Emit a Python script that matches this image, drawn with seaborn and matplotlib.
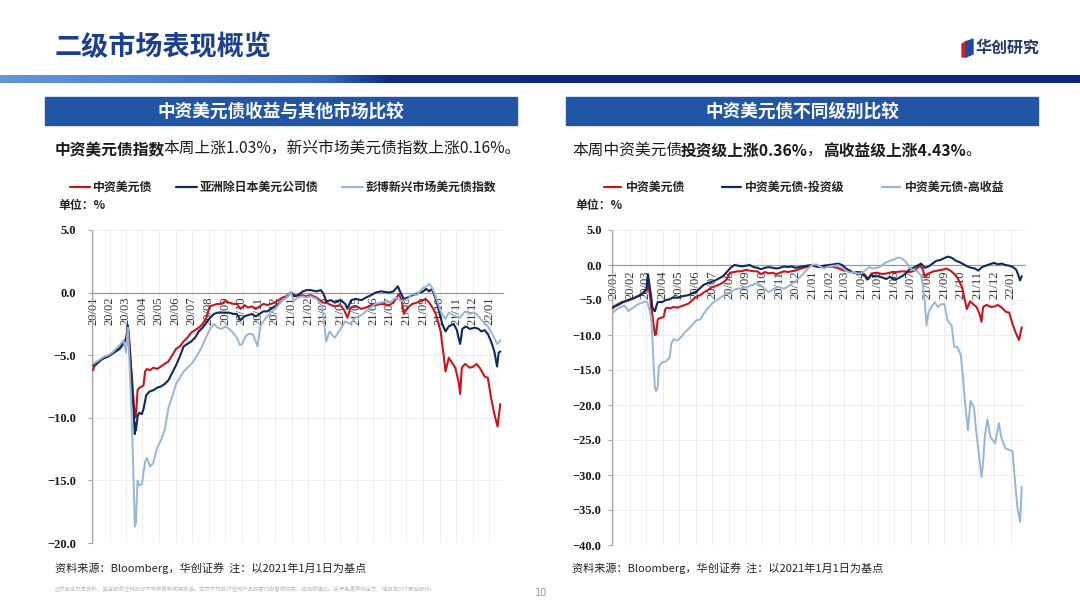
import numpy as np
import pandas as pd
import matplotlib
matplotlib.use('Agg')
import matplotlib.pyplot as plt
import matplotlib.dates as mdates
from matplotlib.ticker import FuncFormatter
from matplotlib.patches import Rectangle, Polygon
from matplotlib.lines import Line2D
import seaborn as sns

# ---- data: cumulative change, % (base 2021-01-01) ----
cn_usd = [
    ("2020-01-01", -6.2), ("2020-01-03", -5.9), ("2020-01-10", -5.6), ("2020-01-17", -5.3), ("2020-01-24", -5.2),
    ("2020-01-31", -5.0), ("2020-02-07", -4.8), ("2020-02-14", -4.5), ("2020-02-21", -4.2), ("2020-02-28", -3.9),
    ("2020-03-03", -3.5), ("2020-03-05", -2.7), ("2020-03-06", -3.0), ("2020-03-09", -4.5), ("2020-03-11", -6.0),
    ("2020-03-13", -7.0), ("2020-03-16", -8.8), ("2020-03-18", -10.0), ("2020-03-19", -9.8), ("2020-03-20", -9.9),
    ("2020-03-23", -7.8), ("2020-03-26", -7.6), ("2020-03-31", -7.5), ("2020-04-03", -7.4), ("2020-04-06", -6.3),
    ("2020-04-09", -6.1), ("2020-04-15", -6.2), ("2020-04-21", -6.0), ("2020-04-28", -6.1), ("2020-05-05", -5.9),
    ("2020-05-12", -5.7), ("2020-05-19", -5.5), ("2020-05-26", -5.0), ("2020-06-02", -4.5), ("2020-06-09", -4.3),
    ("2020-06-16", -3.9), ("2020-06-23", -3.6), ("2020-06-30", -3.2), ("2020-07-07", -3.0), ("2020-07-14", -2.8),
    ("2020-07-21", -2.5), ("2020-07-28", -2.0), ("2020-08-03", -1.1), ("2020-08-10", -1.0), ("2020-08-17", -0.9),
    ("2020-08-24", -0.9), ("2020-09-01", -0.7), ("2020-09-08", -0.8), ("2020-09-15", -0.9), ("2020-09-22", -0.9),
    ("2020-09-29", -1.3), ("2020-10-06", -1.0), ("2020-10-13", -1.2), ("2020-10-20", -1.1), ("2020-10-27", -1.3),
    ("2020-11-03", -1.1), ("2020-11-10", -0.9), ("2020-11-17", -1.0), ("2020-11-24", -0.9), ("2020-12-01", -0.8),
    ("2020-12-08", -0.6), ("2020-12-15", -0.4), ("2020-12-22", -0.3), ("2020-12-31", 0.0),
    ("2021-01-06", -0.2), ("2021-01-13", -0.3), ("2021-01-20", -0.2), ("2021-01-27", -0.3), ("2021-02-05", -0.2),
    ("2021-02-16", -0.4), ("2021-02-28", -0.8), ("2021-03-06", -0.8), ("2021-03-15", -1.0), ("2021-03-22", -1.1),
    ("2021-04-01", -1.0), ("2021-04-08", -1.4), ("2021-04-14", -2.0), ("2021-04-20", -1.2), ("2021-04-30", -1.1),
    ("2021-05-10", -1.3), ("2021-05-18", -1.2), ("2021-05-28", -1.0), ("2021-06-05", -1.0), ("2021-06-15", -0.9),
    ("2021-06-30", -1.0), ("2021-07-08", -0.8), ("2021-07-18", -0.1), ("2021-07-23", -0.6), ("2021-07-27", -1.7),
    ("2021-08-03", -1.2), ("2021-08-12", -0.9), ("2021-08-20", -0.8), ("2021-09-01", -0.6), ("2021-09-05", -0.5),
    ("2021-09-12", -0.8), ("2021-09-18", -1.2), ("2021-09-24", -1.7), ("2021-10-03", -3.1), ("2021-10-09", -5.2),
    ("2021-10-12", -6.3), ("2021-10-18", -5.2), ("2021-10-24", -5.6), ("2021-10-30", -6.0), ("2021-11-05", -7.1),
    ("2021-11-08", -8.1), ("2021-11-11", -6.0), ("2021-11-17", -5.7), ("2021-11-26", -6.0), ("2021-12-03", -5.9),
    ("2021-12-08", -5.7), ("2021-12-14", -6.0), ("2021-12-23", -6.7), ("2021-12-29", -6.8), ("2022-01-04", -8.4),
    ("2022-01-10", -9.7), ("2022-01-16", -10.7), ("2022-01-19", -9.6), ("2022-01-21", -8.9),
]

asia_xj = [
    ("2020-01-01", -5.8), ("2020-01-08", -5.6), ("2020-01-15", -5.4), ("2020-01-22", -5.2), ("2020-01-29", -5.1),
    ("2020-02-05", -4.9), ("2020-02-12", -4.7), ("2020-02-19", -4.5), ("2020-02-26", -4.1), ("2020-03-02", -3.7),
    ("2020-03-05", -2.6), ("2020-03-06", -3.0), ("2020-03-09", -5.0), ("2020-03-11", -6.0), ("2020-03-13", -7.8),
    ("2020-03-16", -9.6), ("2020-03-18", -11.3), ("2020-03-19", -10.4), ("2020-03-20", -11.0), ("2020-03-23", -9.9),
    ("2020-03-26", -9.6), ("2020-03-31", -9.7), ("2020-04-03", -9.3), ("2020-04-08", -8.2), ("2020-04-14", -7.9),
    ("2020-04-21", -7.8), ("2020-04-28", -7.6), ("2020-05-05", -7.5), ("2020-05-12", -7.3), ("2020-05-19", -7.0),
    ("2020-05-26", -6.4), ("2020-06-02", -5.8), ("2020-06-09", -5.1), ("2020-06-16", -4.3), ("2020-06-23", -4.1),
    ("2020-06-30", -3.9), ("2020-07-07", -3.6), ("2020-07-14", -3.1), ("2020-07-21", -2.8), ("2020-07-28", -2.4),
    ("2020-08-04", -2.0), ("2020-08-11", -1.7), ("2020-08-18", -1.6), ("2020-08-25", -1.6), ("2020-09-01", -1.6),
    ("2020-09-08", -1.6), ("2020-09-15", -1.7), ("2020-09-22", -1.7), ("2020-09-29", -2.2), ("2020-10-06", -1.9),
    ("2020-10-13", -1.8), ("2020-10-20", -1.7), ("2020-10-27", -1.9), ("2020-11-03", -1.7), ("2020-11-10", -1.5),
    ("2020-11-17", -1.5), ("2020-11-24", -1.3), ("2020-12-01", -1.1), ("2020-12-08", -0.9), ("2020-12-15", -0.6),
    ("2020-12-22", -0.4), ("2020-12-31", 0.0),
    ("2021-01-06", -0.3), ("2021-01-13", -0.2), ("2021-01-22", 0.1), ("2021-01-29", 0.2), ("2021-02-05", 0.2),
    ("2021-02-16", 0.1), ("2021-02-24", 0.2), ("2021-03-01", -0.1), ("2021-03-06", -0.7), ("2021-03-15", -0.6),
    ("2021-03-22", -0.8), ("2021-04-01", -0.6), ("2021-04-10", -0.9), ("2021-04-14", -1.3), ("2021-04-21", -0.6),
    ("2021-04-29", -0.5), ("2021-05-10", -0.6), ("2021-05-18", -0.4), ("2021-05-28", -0.2), ("2021-06-05", 0.0),
    ("2021-06-15", 0.1), ("2021-06-30", 0.0), ("2021-07-08", 0.1), ("2021-07-16", 0.5), ("2021-07-20", 0.1),
    ("2021-07-27", -0.5), ("2021-08-03", -0.4), ("2021-08-12", -0.2), ("2021-08-20", -0.1), ("2021-09-01", 0.1),
    ("2021-09-06", 0.3), ("2021-09-12", 0.1), ("2021-09-17", 0.3), ("2021-09-24", -0.5), ("2021-09-30", -1.5),
    ("2021-10-06", -2.5), ("2021-10-12", -3.1), ("2021-10-18", -2.7), ("2021-10-27", -2.5), ("2021-11-02", -3.0),
    ("2021-11-05", -3.6), ("2021-11-08", -4.1), ("2021-11-12", -2.9), ("2021-11-18", -2.7), ("2021-11-26", -2.9),
    ("2021-12-05", -2.8), ("2021-12-12", -2.9), ("2021-12-17", -3.1), ("2021-12-23", -3.0), ("2021-12-29", -3.3),
    ("2022-01-04", -3.9), ("2022-01-10", -4.7), ("2022-01-15", -5.9), ("2022-01-18", -4.8), ("2022-01-21", -4.7),
]

bbg_em = [
    ("2020-01-01", -5.7), ("2020-01-08", -5.5), ("2020-01-15", -5.3), ("2020-01-22", -5.1), ("2020-01-29", -5.0),
    ("2020-02-05", -4.8), ("2020-02-12", -4.5), ("2020-02-19", -4.2), ("2020-02-26", -3.8), ("2020-03-02", -4.8),
    ("2020-03-04", -3.4), ("2020-03-05", -2.8), ("2020-03-06", -3.4), ("2020-03-09", -6.5), ("2020-03-11", -8.5),
    ("2020-03-13", -11.1), ("2020-03-16", -15.5), ("2020-03-18", -18.7), ("2020-03-19", -17.8), ("2020-03-20", -18.4),
    ("2020-03-23", -15.0), ("2020-03-26", -15.4), ("2020-03-31", -15.3), ("2020-04-06", -13.5), ("2020-04-09", -13.2),
    ("2020-04-15", -13.9), ("2020-04-21", -13.6), ("2020-04-28", -12.4), ("2020-05-05", -11.8), ("2020-05-12", -11.0),
    ("2020-05-19", -9.2), ("2020-05-26", -8.3), ("2020-06-02", -7.3), ("2020-06-09", -6.8), ("2020-06-16", -6.3),
    ("2020-06-23", -6.0), ("2020-06-30", -5.7), ("2020-07-07", -5.3), ("2020-07-14", -4.8), ("2020-07-21", -4.2),
    ("2020-07-28", -3.5), ("2020-08-04", -2.9), ("2020-08-11", -2.5), ("2020-08-18", -2.8), ("2020-08-25", -2.9),
    ("2020-09-01", -2.7), ("2020-09-08", -2.9), ("2020-09-15", -3.2), ("2020-09-22", -3.6), ("2020-09-28", -4.2),
    ("2020-10-02", -4.1), ("2020-10-08", -3.5), ("2020-10-14", -3.3), ("2020-10-21", -3.3), ("2020-10-27", -3.9),
    ("2020-10-30", -4.3), ("2020-11-05", -2.6), ("2020-11-10", -2.3), ("2020-11-17", -1.9), ("2020-11-24", -1.6),
    ("2020-12-01", -1.3), ("2020-12-08", -1.0), ("2020-12-15", -0.6), ("2020-12-22", -0.4), ("2020-12-31", 0.0),
    ("2021-01-05", -0.7), ("2021-01-12", -0.4), ("2021-01-20", -0.3), ("2021-01-28", -0.4), ("2021-02-05", -0.3),
    ("2021-02-16", -0.5), ("2021-02-24", -0.9), ("2021-02-28", -1.7), ("2021-03-06", -3.9), ("2021-03-12", -3.1),
    ("2021-03-17", -3.4), ("2021-03-22", -3.6), ("2021-04-03", -2.8), ("2021-04-10", -2.3), ("2021-04-19", -2.5),
    ("2021-04-29", -2.0), ("2021-05-10", -1.8), ("2021-05-18", -1.5), ("2021-05-27", -1.2), ("2021-06-05", -0.9),
    ("2021-06-14", -0.8), ("2021-06-23", -0.7), ("2021-07-02", -0.8), ("2021-07-12", -0.4), ("2021-07-24", -0.7),
    ("2021-08-04", -0.5), ("2021-08-11", -0.1), ("2021-08-20", -0.2), ("2021-09-01", 0.4), ("2021-09-07", 0.5),
    ("2021-09-12", 0.7), ("2021-09-17", 0.4), ("2021-09-24", -0.3), ("2021-10-03", -1.5), ("2021-10-12", -2.1),
    ("2021-10-18", -1.6), ("2021-10-30", -1.9), ("2021-11-08", -2.0), ("2021-11-17", -1.5), ("2021-11-26", -1.7),
    ("2021-12-05", -1.6), ("2021-12-12", -1.9), ("2021-12-20", -2.3), ("2021-12-29", -2.7), ("2022-01-06", -3.3),
    ("2022-01-11", -3.7), ("2022-01-15", -4.1), ("2022-01-18", -4.0), ("2022-01-21", -3.8),
]

cn_ig = [
    ("2020-01-01", -6.0), ("2020-01-08", -5.8), ("2020-01-15", -5.5), ("2020-01-22", -5.2), ("2020-01-29", -5.0),
    ("2020-02-05", -4.8), ("2020-02-12", -4.6), ("2020-02-19", -4.4), ("2020-02-26", -3.9), ("2020-03-02", -3.5),
    ("2020-03-05", -1.3), ("2020-03-06", -1.8), ("2020-03-09", -3.5), ("2020-03-11", -4.5), ("2020-03-13", -6.0),
    ("2020-03-16", -6.5), ("2020-03-18", -6.6), ("2020-03-20", -6.0), ("2020-03-23", -5.3), ("2020-03-31", -5.3),
    ("2020-04-07", -5.0), ("2020-04-14", -4.9), ("2020-04-21", -4.6), ("2020-04-28", -4.7), ("2020-05-05", -4.5),
    ("2020-05-12", -4.4), ("2020-05-19", -4.3), ("2020-05-26", -4.0), ("2020-06-02", -3.8), ("2020-06-09", -3.3),
    ("2020-06-16", -2.8), ("2020-06-23", -2.6), ("2020-06-30", -2.4), ("2020-07-07", -2.2), ("2020-07-14", -1.9),
    ("2020-07-21", -1.6), ("2020-07-28", -1.0), ("2020-08-04", -0.4), ("2020-08-11", 0.0), ("2020-08-18", -0.1),
    ("2020-08-25", -0.2), ("2020-09-01", -0.1), ("2020-09-08", 0.0), ("2020-09-15", -0.3), ("2020-09-22", -0.4),
    ("2020-09-29", -0.6), ("2020-10-06", -0.4), ("2020-10-13", -0.3), ("2020-10-20", -0.4), ("2020-10-27", -0.5),
    ("2020-11-03", -0.4), ("2020-11-10", -0.2), ("2020-11-17", -0.3), ("2020-11-24", -0.2), ("2020-12-01", -0.4),
    ("2020-12-08", -0.3), ("2020-12-15", -0.2), ("2020-12-22", -0.1), ("2020-12-31", 0.0),
    ("2021-01-08", -0.1), ("2021-01-15", -0.3), ("2021-01-22", -0.1), ("2021-02-01", 0.0), ("2021-02-10", 0.1),
    ("2021-02-18", 0.2), ("2021-02-25", 0.0), ("2021-03-04", -0.5), ("2021-03-11", -0.8), ("2021-03-18", -1.1),
    ("2021-03-25", -1.0), ("2021-04-01", -1.3), ("2021-04-08", -1.6), ("2021-04-12", -2.1), ("2021-04-19", -1.5),
    ("2021-04-26", -1.6), ("2021-05-03", -1.6), ("2021-05-10", -1.8), ("2021-05-17", -2.0), ("2021-05-24", -1.7),
    ("2021-06-01", -2.1), ("2021-06-08", -1.9), ("2021-06-15", -1.6), ("2021-06-22", -1.2), ("2021-06-29", -0.6),
    ("2021-07-06", -0.4), ("2021-07-13", -0.1), ("2021-07-20", 0.2), ("2021-07-27", -0.4), ("2021-08-03", -0.2),
    ("2021-08-10", 0.2), ("2021-08-17", 0.6), ("2021-08-24", 0.7), ("2021-09-01", 1.0), ("2021-09-08", 1.2),
    ("2021-09-15", 1.0), ("2021-09-22", 0.6), ("2021-09-29", 0.4), ("2021-10-06", 0.1), ("2021-10-13", -0.2),
    ("2021-10-20", -0.4), ("2021-10-27", -0.5), ("2021-11-02", -0.8), ("2021-11-09", -0.3), ("2021-11-16", -0.1),
    ("2021-11-23", 0.1), ("2021-12-01", 0.3), ("2021-12-08", 0.1), ("2021-12-15", 0.2), ("2021-12-22", 0.0),
    ("2021-12-29", -0.1), ("2022-01-05", -0.3), ("2022-01-11", -0.7), ("2022-01-14", -1.3), ("2022-01-18", -2.2),
    ("2022-01-21", -1.6),
]

cn_hy = [
    ("2020-01-01", -6.8), ("2020-01-08", -6.3), ("2020-01-15", -6.0), ("2020-01-22", -5.8), ("2020-01-29", -6.6),
    ("2020-02-05", -6.2), ("2020-02-12", -5.8), ("2020-02-19", -5.5), ("2020-02-26", -5.3), ("2020-03-02", -5.2),
    ("2020-03-05", -5.5), ("2020-03-09", -6.8), ("2020-03-11", -7.5), ("2020-03-13", -10.2), ("2020-03-16", -15.0),
    ("2020-03-18", -17.6), ("2020-03-20", -18.0), ("2020-03-23", -17.5), ("2020-03-25", -14.5), ("2020-03-31", -13.9),
    ("2020-04-07", -13.8), ("2020-04-14", -13.2), ("2020-04-17", -11.2), ("2020-04-21", -10.6), ("2020-04-28", -10.8),
    ("2020-05-05", -10.3), ("2020-05-12", -9.6), ("2020-05-19", -9.1), ("2020-05-26", -8.5), ("2020-06-02", -7.9),
    ("2020-06-09", -7.8), ("2020-06-16", -6.9), ("2020-06-23", -6.2), ("2020-06-30", -5.6), ("2020-07-07", -5.1),
    ("2020-07-14", -4.8), ("2020-07-21", -4.4), ("2020-07-28", -4.0), ("2020-08-04", -3.9), ("2020-08-11", -3.5),
    ("2020-08-18", -3.4), ("2020-08-25", -3.3), ("2020-09-01", -3.2), ("2020-09-08", -3.0), ("2020-09-15", -2.8),
    ("2020-09-22", -2.6), ("2020-09-29", -2.9), ("2020-10-06", -3.4), ("2020-10-13", -3.9), ("2020-10-20", -3.5),
    ("2020-10-27", -3.2), ("2020-11-03", -3.2), ("2020-11-10", -3.4), ("2020-11-17", -3.1), ("2020-11-24", -2.7),
    ("2020-12-01", -2.4), ("2020-12-08", -1.8), ("2020-12-15", -1.3), ("2020-12-22", -0.7), ("2020-12-31", 0.0),
    ("2021-01-08", 0.1), ("2021-01-15", -0.2), ("2021-01-22", -0.5), ("2021-02-01", -0.2), ("2021-02-10", -0.1),
    ("2021-02-18", 0.0), ("2021-02-25", -0.4), ("2021-03-04", -0.8), ("2021-03-11", -1.1), ("2021-03-18", -1.0),
    ("2021-03-25", -1.2), ("2021-04-01", -1.2), ("2021-04-08", -0.8), ("2021-04-15", -0.3), ("2021-04-22", -0.5),
    ("2021-05-01", -0.4), ("2021-05-08", -0.1), ("2021-05-15", 0.3), ("2021-05-24", 0.6), ("2021-06-01", 0.8),
    ("2021-06-08", 1.1), ("2021-06-15", 0.9), ("2021-06-22", 0.5), ("2021-06-29", -0.4), ("2021-07-06", -0.7),
    ("2021-07-13", -0.9), ("2021-07-20", -1.5), ("2021-07-23", -2.7), ("2021-07-27", -5.5), ("2021-07-30", -8.6),
    ("2021-08-03", -6.7), ("2021-08-08", -6.0), ("2021-08-14", -5.3), ("2021-08-20", -6.0), ("2021-08-26", -5.6),
    ("2021-09-01", -5.6), ("2021-09-07", -8.0), ("2021-09-14", -8.6), ("2021-09-19", -11.7), ("2021-09-25", -11.7),
    ("2021-10-01", -12.9), ("2021-10-05", -16.0), ("2021-10-09", -19.8), ("2021-10-14", -23.6), ("2021-10-19", -19.4),
    ("2021-10-25", -20.3), ("2021-10-29", -23.6), ("2021-11-01", -25.5), ("2021-11-04", -27.5), ("2021-11-08", -30.3),
    ("2021-11-11", -28.3), ("2021-11-14", -24.6), ("2021-11-19", -22.0), ("2021-11-24", -24.5), ("2021-12-03", -25.5),
    ("2021-12-10", -22.6), ("2021-12-14", -24.5), ("2021-12-22", -26.2), ("2022-01-01", -26.5), ("2022-01-04", -26.6),
    ("2022-01-08", -30.3), ("2022-01-13", -34.6), ("2022-01-18", -36.7), ("2022-01-21", -31.7),
]

left_names = ["中资美元债", "亚洲除日本美元公司债", "彭博新兴市场美元债指数"]
right_names = ["中资美元债", "中资美元债-投资级", "中资美元债-高收益"]
RED, NAVY, LIGHT = "#C8161E", "#0E2A5C", "#97B6D3"

sns.set_theme(style="white")
CJK = ["Noto Sans CJK SC", "DejaVu Sans"]
plt.rcParams["font.family"] = CJK
plt.rcParams["axes.unicode_minus"] = True


def frame(pts):
    d = pd.DataFrame(pts, columns=["date", "value"])
    d["date"] = pd.to_datetime(d["date"])
    return d


def fx(x):
    return x / 1080


def fy(y):
    return 1 - y / 608


fig = plt.figure(figsize=(10.8, 6.08), dpi=100)
fig.patch.set_facecolor("white")

# background canvas in pixel coordinates
bg = fig.add_axes([0, 0, 1, 1])
bg.set_xlim(0, 1080)
bg.set_ylim(608, 0)
bg.axis("off")

# gradient bar under title
stops_x = [0, 0.30, 0.36, 1.0]
stops_c = np.array([[0.38, 0.60, 0.84], [0.22, 0.42, 0.74], [0.05, 0.17, 0.50], [0.05, 0.16, 0.47]])
gx = np.linspace(0, 1, 540)
grad = np.stack([np.interp(gx, stops_x, stops_c[:, k]) for k in range(3)], axis=-1)[None, :, :]
bg.imshow(grad, extent=[0, 1080, 83, 75], aspect="auto", zorder=1)
bg.set_xlim(0, 1080)
bg.set_ylim(608, 0)

bg.text(55, 47, "二级市场表现概览", fontsize=19.5, weight="bold", color="#1B3F8E", va="center", ha="left")
# logo
bg.add_patch(Polygon([[962, 44], [967, 41], [967, 57], [962, 57]], closed=True, color="#D2232A"))
bg.add_patch(Polygon([[966, 42], [973, 39], [973, 54], [966, 57]], closed=True, color="#1D4C9C"))
bg.text(976, 48, "华创研究", fontsize=11.5, weight="bold", color="#243A6B", va="center", ha="left")

# section header boxes
for x0, title in [(45, "中资美元债收益与其他市场比较"), (566, "中资美元债不同级别比较")]:
    bg.add_patch(Rectangle((x0, 97), 472, 28, color="#2256A5"))
    bg.text(x0 + 236, 111.5, title, fontsize=12.7, weight="bold", color="white", ha="center", va="center")


def chain(parts, x, y, size):
    prev = bg.text(x, y, parts[0][0], fontsize=size, weight=parts[0][1], color="#1A1A1A", va="center", ha="left")
    for i, (txt, w) in enumerate(parts[1:]):
        shift = -1.5 if i == 0 else 0
        prev = bg.annotate(txt, xy=(1, 0), xycoords=prev, xytext=(shift, 0), textcoords="offset points",
                           fontsize=size, weight=w, color="#1A1A1A", va="bottom", ha="left")


chain([("中资美元债指数", "bold"), ("本周上涨1.03%，新兴市场美元债指数上涨0.16%。", "normal")], 55, 150, 11.3)
chain([("本周中资美元债", "normal"), ("投资级上涨0.36%", "bold"), ("，", "normal"),
       ("高收益级上涨4.43%", "bold"), ("。", "normal")], 572, 150, 11.3)

# legends
legend_items = [
    (70, 90, 93, RED, left_names[0]), (176, 197, 200, NAVY, left_names[1]), (342, 363, 366, LIGHT, left_names[2]),
    (604, 621, 626, RED, right_names[0]), (722, 741, 745, NAVY, right_names[1]), (882, 900, 905, LIGHT, right_names[2]),
]
for x1, x2, xt, c, name in legend_items:
    bg.add_line(Line2D([x1, x2], [187, 187], color=c, lw=1.6))
    bg.text(xt, 187, name, fontsize=8.6, weight="bold", color="#222222", va="center", ha="left")
for xu in (58, 575):
    bg.text(xu, 205, "单位：%", fontsize=8.6, weight="bold", color="#222222", va="center", ha="left")

src = "资料来源：Bloomberg，华创证券  注：以2021年1月1日为基点"
bg.text(55, 568, src, fontsize=8, color="#222222", va="center", ha="left")
bg.text(572, 568, src, fontsize=8, color="#222222", va="center", ha="left")
bg.text(55, 589, "此页包含机密资料，其全部或任何部分不可被复制或再发送。本页不构成对任何产品的要约出售或购买、招揽或建议。"
        "关于免责声明全文，请见本PPT最后部分。", fontsize=3.9, color="#BBBBBB", va="center", ha="left")
bg.text(540, 593, "10", fontsize=8, color="#999999", va="center", ha="center")


def minus_fmt(v, pos):
    return f"{v:.1f}".replace("-", "\u2212")


def style_axis(ax, ylo, yhi, ypad, xpad, xend):
    ax.set_ylim(ylo, yhi)
    ax.set_yticks(np.arange(ylo, yhi + 0.1, 5))
    ax.yaxis.set_major_formatter(FuncFormatter(minus_fmt))
    ax.set_xlim(pd.Timestamp("2019-12-30"), pd.Timestamp(xend))
    ax.xaxis.set_major_locator(mdates.MonthLocator())
    ax.xaxis.set_major_formatter(mdates.DateFormatter("%y/%m"))
    ax.set_xlabel("")
    ax.set_ylabel("")
    ax.set_facecolor("none")
    for s in ("top", "right"):
        ax.spines[s].set_visible(False)
    ax.spines["bottom"].set_position(("data", 0))
    ax.spines["bottom"].set_color("#9A9A9A")
    ax.spines["bottom"].set_linewidth(0.9)
    ax.spines["left"].set_color("#A6A6A6")
    ax.spines["left"].set_linewidth(0.9)
    ax.grid(True, color="#EBEBEB", lw=0.6)
    ax.set_axisbelow(True)
    ax.tick_params(axis="x", labelrotation=90, length=0, pad=xpad, labelsize=9, labelcolor="#333333")
    ax.tick_params(axis="y", length=3, width=0.8, color="#A6A6A6", direction="out", pad=ypad,
                   labelsize=9, labelcolor="#1A1A1A", left=True)
    for lab in ax.get_xticklabels():
        lab.set_fontfamily("Liberation Serif")
    for lab in ax.get_yticklabels():
        lab.set_fontfamily("Liberation Serif")
        lab.set_fontweight("bold")


axL = fig.add_axes([fx(92), fy(543), fx(411), 313 / 608])
for pts, c, lw in [(cn_usd, RED, 1.5), (asia_xj, NAVY, 1.5), (bbg_em, LIGHT, 1.4)]:
    sns.lineplot(data=frame(pts), x="date", y="value", ax=axL, color=c, lw=lw, zorder=3)
style_axis(axL, -20, 5, 8.4, 3, "2022-01-26")

axR = fig.add_axes([fx(612), fy(545), fx(413), 315 / 608])
for pts, c, lw in [(cn_usd, RED, 1.5), (cn_ig, NAVY, 1.5), (cn_hy, LIGHT, 1.4)]:
    sns.lineplot(data=frame(pts), x="date", y="value", ax=axR, color=c, lw=lw, zorder=3)
style_axis(axR, -40, 5, 4.5, 4, "2022-01-27")

fig.savefig("out.png", dpi=100)
